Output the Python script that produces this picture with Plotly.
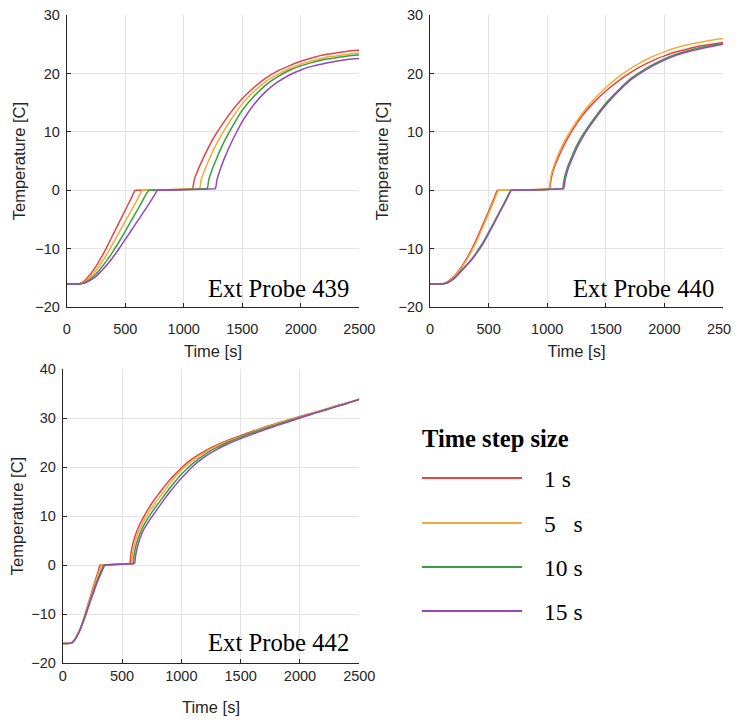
import plotly.graph_objects as go

# ---------------- data ----------------
series_names = ["1 s", "5   s", "10 s", "15 s"]
series_colors = ["rgb(232,66,66)", "rgb(244,170,58)", "rgb(56,160,62)", "rgb(150,72,182)"]
panel_labels = ["Ext Probe 439", "Ext Probe 440", "Ext Probe 442"]

# Ext Probe 439
t439_1 = [0, 100, 150, 200, 250, 300, 350, 400, 450, 500, 550, 585, 600, 700, 850, 1000, 1065, 1075, 1090, 1115, 1155, 1205, 1250, 1300, 1400, 1500, 1600, 1700, 1800, 1900, 2000, 2100, 2200, 2300, 2400, 2500]
T439_1 = [-16, -16, -15.5, -14.4, -13.0, -11.3, -9.4, -7.4, -5.4, -3.4, -1.4, 0, 0.01, 0.05, 0.1, 0.2, 0.28, 0.3, 1.8, 3.2, 5.0, 7.1, 8.8, 10.4, 13.3, 15.7, 17.6, 19.2, 20.4, 21.3, 22.1, 22.7, 23.2, 23.5, 23.8, 24.0]
t439_5 = [0, 100, 150, 200, 250, 300, 350, 400, 450, 500, 550, 600, 645, 660, 750, 900, 1050, 1125, 1135, 1150, 1175, 1215, 1265, 1300, 1340, 1400, 1500, 1600, 1700, 1800, 1900, 2000, 2100, 2200, 2300, 2400, 2500]
T439_5 = [-16, -16, -15.7, -14.9, -13.7, -12.3, -10.7, -8.9, -7.1, -5.3, -3.5, -1.7, 0, 0.01, 0.05, 0.1, 0.2, 0.28, 0.3, 1.9, 3.3, 5.2, 7.4, 8.7, 10.1, 12.0, 14.8, 16.9, 18.6, 19.8, 20.8, 21.6, 22.2, 22.7, 23.0, 23.3, 23.5]
t439_10 = [0, 100, 150, 200, 250, 300, 350, 400, 450, 500, 550, 600, 650, 700, 715, 800, 950, 1100, 1190, 1200, 1215, 1240, 1280, 1330, 1390, 1450, 1500, 1600, 1700, 1800, 1900, 2000, 2100, 2200, 2300, 2400, 2500]
T439_10 = [-16, -16, -15.8, -15.2, -14.3, -13.1, -11.8, -10.3, -8.7, -7.0, -5.2, -3.5, -1.7, 0, 0.01, 0.05, 0.1, 0.2, 0.28, 0.3, 1.9, 3.4, 5.4, 7.7, 10.0, 12.1, 13.7, 16.1, 18.0, 19.4, 20.5, 21.3, 21.9, 22.4, 22.7, 23.0, 23.2]
t439_15 = [0, 100, 150, 200, 250, 300, 350, 400, 450, 500, 550, 600, 650, 700, 750, 775, 790, 850, 1000, 1150, 1260, 1270, 1285, 1310, 1350, 1400, 1450, 1500, 1600, 1700, 1800, 1900, 2000, 2100, 2200, 2300, 2400, 2500]
T439_15 = [-16, -16, -15.9, -15.4, -14.7, -13.7, -12.6, -11.3, -9.9, -8.4, -6.9, -5.4, -3.9, -2.4, -0.8, 0, 0.01, 0.05, 0.1, 0.2, 0.28, 0.3, 1.9, 3.5, 5.6, 7.9, 9.9, 11.75, 14.7, 16.9, 18.5, 19.7, 20.6, 21.25, 21.7, 22.1, 22.4, 22.55]

# Ext Probe 440
t440_1 = [0, 100, 150, 200, 250, 300, 350, 400, 450, 500, 550, 575, 590, 700, 850, 950, 1010, 1020, 1035, 1060, 1100, 1150, 1200, 1300, 1400, 1500, 1600, 1700, 1800, 1900, 2000, 2100, 2200, 2300, 2400, 2500]
T440_1 = [-16, -16, -15.6, -14.8, -13.6, -12.1, -10.3, -8.2, -5.9, -3.6, -1.2, 0, 0.01, 0.05, 0.1, 0.2, 0.28, 0.3, 2.2, 3.9, 5.9, 8.0, 9.8, 12.8, 15.1, 17.0, 18.6, 20.0, 21.2, 22.2, 23.0, 23.7, 24.2, 24.7, 25.0, 25.3]
t440_5 = [0, 100, 150, 200, 250, 300, 350, 400, 450, 500, 550, 585, 600, 700, 850, 950, 1005, 1015, 1030, 1055, 1100, 1150, 1200, 1300, 1400, 1500, 1600, 1700, 1800, 1900, 2000, 2100, 2200, 2300, 2400, 2500]
T440_5 = [-16, -16, -15.7, -14.9, -13.8, -12.3, -10.6, -8.6, -6.3, -4.0, -1.6, 0, 0.01, 0.05, 0.1, 0.2, 0.28, 0.3, 2.3, 4.1, 6.4, 8.5, 10.2, 13.2, 15.6, 17.6, 19.3, 20.7, 21.9, 22.9, 23.7, 24.4, 24.9, 25.3, 25.7, 26.0]
t440_10 = [0, 100, 150, 200, 250, 300, 350, 400, 450, 500, 550, 600, 650, 690, 705, 800, 950, 1050, 1120, 1130, 1145, 1170, 1200, 1250, 1300, 1350, 1400, 1500, 1600, 1700, 1800, 1900, 2000, 2100, 2200, 2300, 2400, 2500]
T440_10 = [-16, -16, -15.8, -15.1, -14.1, -13.0, -11.9, -10.5, -9.0, -7.2, -5.3, -3.4, -1.5, 0, 0.01, 0.05, 0.1, 0.2, 0.28, 0.3, 2.0, 3.8, 5.3, 7.6, 9.4, 10.9, 12.3, 14.9, 17.0, 18.9, 20.3, 21.5, 22.5, 23.3, 23.9, 24.4, 24.8, 25.1]
t440_15 = [0, 100, 150, 200, 250, 300, 350, 400, 450, 500, 550, 600, 650, 695, 710, 800, 950, 1050, 1130, 1140, 1155, 1180, 1210, 1260, 1300, 1350, 1400, 1500, 1600, 1700, 1800, 1900, 2000, 2100, 2200, 2300, 2400, 2500]
T440_15 = [-16, -16, -15.8, -15.2, -14.2, -13.1, -12.0, -10.7, -9.2, -7.4, -5.5, -3.6, -1.7, 0, 0.01, 0.05, 0.1, 0.2, 0.28, 0.3, 2.0, 3.8, 5.3, 7.5, 9.0, 10.6, 12.0, 14.6, 16.8, 18.7, 20.1, 21.3, 22.3, 23.1, 23.7, 24.2, 24.6, 25.0]

# Ext Probe 442
t442_1 = [0, 50, 75, 100, 125, 150, 175, 200, 225, 250, 275, 300, 315, 330, 400, 500, 555, 565, 575, 590, 610, 640, 680, 720, 760, 800, 850, 900, 950, 1000, 1050, 1100, 1200, 1300, 1400, 1500, 1600, 1700, 1800, 1900, 2000, 2100, 2200, 2300, 2400, 2500]
T442_1 = [-16, -16, -15.9, -15.3, -14.2, -12.9, -11.1, -9.1, -7.1, -5.1, -3.1, -1.2, 0, 0.01, 0.1, 0.2, 0.28, 0.3, 2.3, 4.2, 5.9, 7.8, 9.7, 11.4, 12.9, 14.2, 15.8, 17.3, 18.6, 19.8, 20.9, 21.8, 23.3, 24.5, 25.5, 26.4, 27.3, 28.1, 28.9, 29.6, 30.3, 31.0, 31.7, 32.4, 33.1, 33.9]
t442_5 = [0, 50, 75, 100, 125, 150, 175, 200, 225, 250, 275, 300, 330, 345, 420, 500, 568, 578, 588, 603, 623, 653, 693, 733, 773, 800, 850, 900, 950, 1000, 1050, 1100, 1200, 1300, 1400, 1500, 1600, 1700, 1800, 1900, 2000, 2100, 2200, 2300, 2400, 2500]
T442_5 = [-16, -16, -15.9, -15.3, -14.2, -12.9, -11.2, -9.3, -7.4, -5.5, -3.6, -1.8, 0, 0.01, 0.1, 0.2, 0.28, 0.3, 2.2, 4.0, 5.7, 7.5, 9.4, 11.0, 12.4, 13.3, 14.9, 16.5, 18.0, 19.4, 20.5, 21.4, 23.0, 24.3, 25.3, 26.2, 27.1, 28.0, 28.8, 29.5, 30.2, 30.9, 31.7, 32.4, 33.1, 33.8]
t442_10 = [0, 50, 75, 100, 125, 150, 175, 200, 225, 250, 275, 300, 325, 345, 360, 440, 520, 582, 592, 602, 617, 637, 667, 707, 747, 800, 850, 900, 950, 1000, 1050, 1100, 1200, 1300, 1400, 1500, 1600, 1700, 1800, 1900, 2000, 2100, 2200, 2300, 2400, 2500]
T442_10 = [-16, -16, -15.9, -15.3, -14.3, -13.0, -11.4, -9.6, -7.8, -6.0, -4.2, -2.6, -1.1, 0, 0.01, 0.1, 0.2, 0.28, 0.3, 2.1, 3.9, 5.5, 7.3, 9.1, 10.6, 12.4, 14.0, 15.6, 17.1, 18.5, 19.7, 20.8, 22.6, 24.0, 25.1, 26.1, 27.0, 27.8, 28.6, 29.4, 30.1, 30.8, 31.6, 32.3, 33.0, 33.8]
t442_15 = [0, 50, 75, 100, 125, 150, 175, 200, 225, 250, 275, 300, 325, 357, 372, 450, 530, 595, 605, 615, 630, 650, 680, 720, 765, 800, 850, 900, 950, 1000, 1050, 1100, 1200, 1300, 1400, 1500, 1600, 1700, 1800, 1900, 2000, 2100, 2200, 2300, 2400, 2500]
T442_15 = [-16, -16, -15.9, -15.3, -14.3, -13.0, -11.5, -9.8, -8.0, -6.3, -4.6, -3.0, -1.6, 0, 0.01, 0.1, 0.2, 0.28, 0.3, 2.0, 3.7, 5.3, 7.1, 8.7, 10.3, 11.5, 13.2, 14.8, 16.3, 17.7, 19.0, 20.2, 22.1, 23.6, 24.8, 25.8, 26.7, 27.6, 28.4, 29.2, 30.0, 30.8, 31.5, 32.3, 33.0, 33.8]

x_ticks = [0, 500, 1000, 1500, 2000, 2500]
y_ticks_top = [-20, -10, 0, 10, 20, 30]
y_ticks_bottom = [-20, -10, 0, 10, 20, 30, 40]

panels = [
    [(t439_1, T439_1), (t439_5, T439_5), (t439_10, T439_10), (t439_15, T439_15)],
    [(t440_1, T440_1), (t440_5, T440_5), (t440_10, T440_10), (t440_15, T440_15)],
    [(t442_1, T442_1), (t442_5, T442_5), (t442_10, T442_10), (t442_15, T442_15)],
]

# ---------------- figure ----------------
# the page body has an 8 px margin, so the figure is 8 px smaller and
# all screen positions below are shifted by 8 px
OFF = 8
W, H = 739 - OFF, 720 - OFF
fig = go.Figure()

axis_suffix = ["", "2", "3"]
for p, curves in enumerate(panels):
    for (tt, TT), name, col in zip(curves, series_names, series_colors):
        fig.add_trace(go.Scatter(
            x=tt, y=TT, mode="lines", name=name, showlegend=False,
            line=dict(color=col, width=1.5, shape="spline", smoothing=0.7),
            xaxis="x" + axis_suffix[p], yaxis="y" + axis_suffix[p],
        ))

def px_x(x):
    return (x - OFF) / W

def px_y(y):
    return 1 - (y - OFF) / H

tick_font = dict(family="Liberation Sans, Arial", size=14.5, color="#262626")
title_font = dict(family="Liberation Sans, Arial", size=16.5, color="#262626")

def xaxis_cfg(x0, x1, anchor, lab_off, title_off):
    return dict(
        domain=[px_x(x0), px_x(x1)], anchor=anchor, range=[0, 2500],
        tickvals=x_ticks, ticks="inside", ticklen=4, tickcolor="#262626",
        showline=True, linecolor="#262626", linewidth=1, mirror=False,
        showgrid=True, gridcolor="#e3e3e3", gridwidth=1, zeroline=False,
        tickfont=tick_font, ticklabelstandoff=lab_off, ticklabeloverflow="allow",
        title=dict(text="Time [s]", font=title_font, standoff=title_off),
        automargin=False,
    )

def yaxis_cfg(y0, y1, anchor, rng, ticks):
    return dict(
        domain=[px_y(y1), px_y(y0)], anchor=anchor, range=rng,
        tickvals=ticks, ticks="inside", ticklen=4, tickcolor="#262626",
        showline=True, linecolor="#262626", linewidth=1, mirror=False,
        showgrid=True, gridcolor="#e3e3e3", gridwidth=1, zeroline=False,
        tickfont=tick_font, ticklabelstandoff=3, ticklabeloverflow="allow",
        title=dict(text="Temperature [C]", font=title_font, standoff=5),
        automargin=False,
    )

fig.update_layout(
    width=W, height=H,
    margin=dict(l=0, r=0, t=0, b=0),
    paper_bgcolor="white", plot_bgcolor="white",
    showlegend=False,
    xaxis=xaxis_cfg(66.7, 359.3, "y", 8, 9),
    yaxis=yaxis_cfg(15, 307.3, "x", [-20, 30], y_ticks_top),
    xaxis2=xaxis_cfg(430, 723, "y2", 8, 9),
    yaxis2=yaxis_cfg(15, 307.3, "x2", [-20, 30], y_ticks_top),
    xaxis3=xaxis_cfg(62.7, 359.3, "y3", 0, 18),
    yaxis3=yaxis_cfg(369, 663, "x3", [-20, 40], y_ticks_bottom),
)

serif = "Liberation Serif, Times New Roman, serif"
label_pos = [(278, 288), (643, 288), (278, 642)]
annotations = []
for lab, (cx, cy) in zip(panel_labels, label_pos):
    annotations.append(dict(
        text=lab, x=px_x(cx), y=px_y(cy), xref="paper", yref="paper",
        xanchor="center", yanchor="middle", showarrow=False,
        font=dict(family=serif, size=24.7, color="black"),
    ))

# legend (drawn by hand to match the long line samples)
annotations.append(dict(
    text="<b>Time step size</b>", x=px_x(420), y=px_y(438), xref="paper", yref="paper",
    xanchor="left", yanchor="middle", showarrow=False,
    font=dict(family=serif, size=24.5, color="black"),
))
leg_y = [478, 523, 567, 611]
shapes = []
for name, col, ly in zip(series_names, series_colors, leg_y):
    shapes.append(dict(type="line", xref="paper", yref="paper",
                       x0=px_x(422), x1=px_x(522), y0=px_y(ly), y1=px_y(ly),
                       line=dict(color=col, width=2)))
    annotations.append(dict(
        text=name.replace(" ", "\u00a0"), x=px_x(542), y=px_y(ly + 1), xref="paper", yref="paper",
        xanchor="left", yanchor="middle", showarrow=False,
        font=dict(family=serif, size=23.5, color="black"),
    ))

fig.update_layout(annotations=annotations, shapes=shapes)

fig.write_html("out.html")
